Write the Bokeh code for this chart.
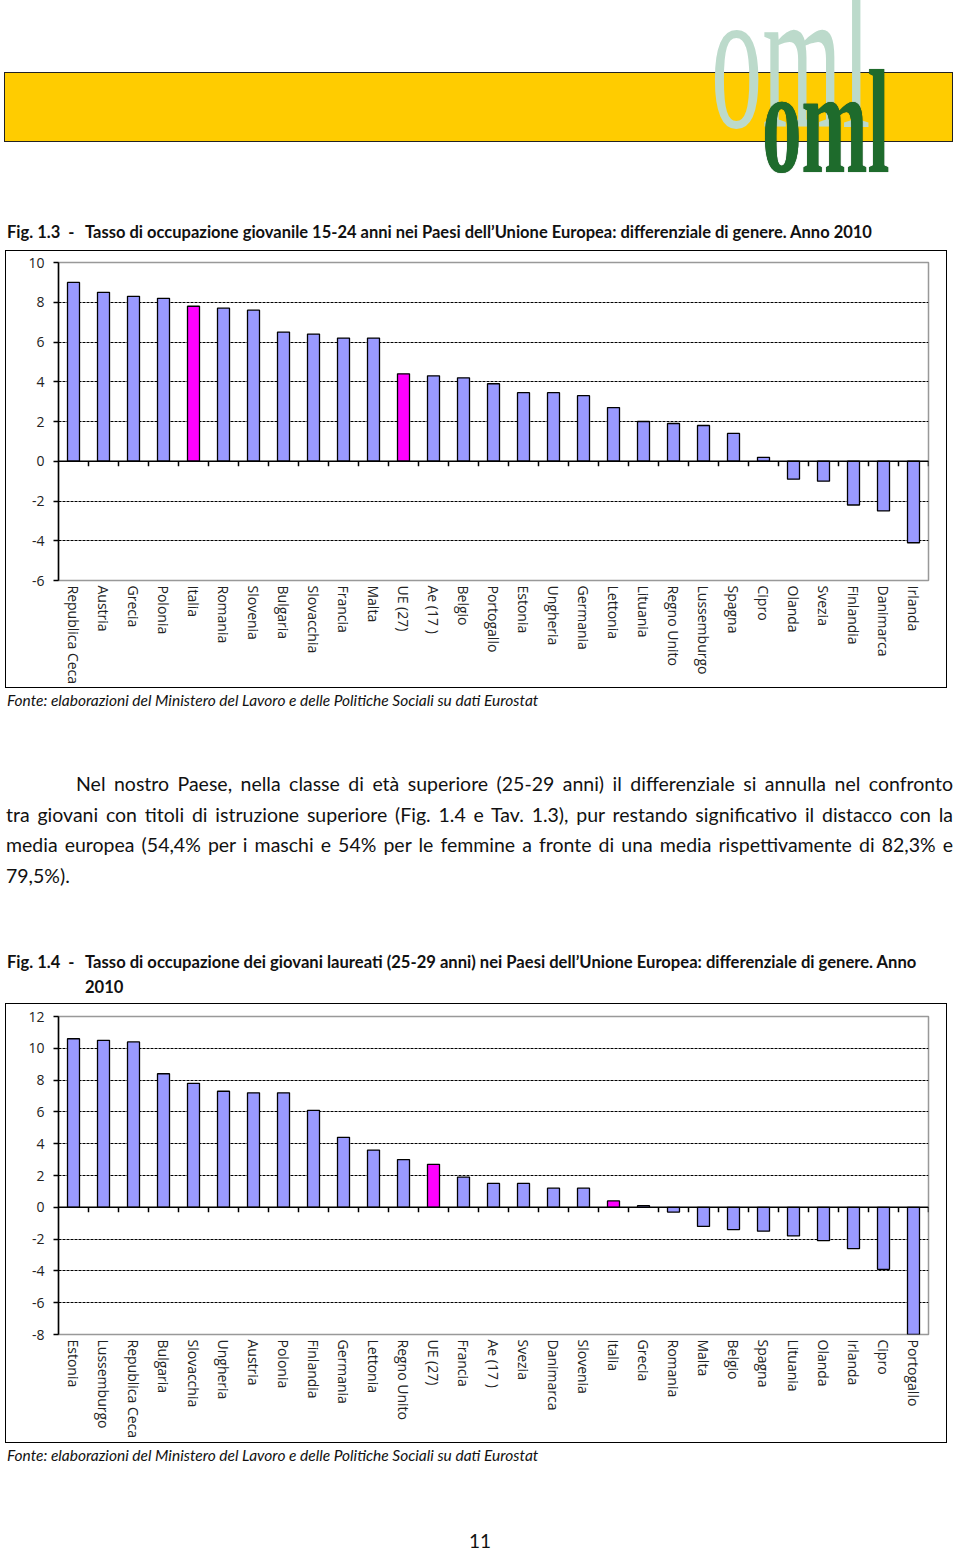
from bokeh.plotting import figure
from bokeh.models import Range1d, FixedTicker, Div, ColumnDataSource, Span
from bokeh.layouts import column
from bokeh.embed import file_html
from bokeh.resources import INLINE

# ---------------- data ----------------
cats1 = ["Republica Ceca", "Austria", "Grecia", "Polonia", "Italia", "Romania", "Slovenia",
         "Bulgaria", "Slovacchia", "Francia", "Malta", "UE (27)", "Ae (17 )", "Belgio",
         "Portogallo", "Estonia", "Ungheria", "Germania", "Lettonia", "Lituania", "Regno Unito",
         "Lussemburgo", "Spagna", "Cipro", "Olanda", "Svezia", "Finlandia", "Danimarca", "Irlanda"]
vals1 = [9.0, 8.5, 8.3, 8.2, 7.8, 7.7, 7.6, 6.5, 6.4, 6.2, 6.2, 4.4, 4.3, 4.2, 3.9, 3.45, 3.45,
         3.3, 2.7, 2.0, 1.9, 1.8, 1.4, 0.2, -0.9, -1.0, -2.2, -2.5, -4.1]
yticks1 = [-6, -4, -2, 0, 2, 4, 6, 8, 10]

cats2 = ["Estonia", "Lussemburgo", "Republica Ceca", "Bulgaria", "Slovacchia", "Ungheria",
         "Austria", "Polonia", "Finlandia", "Germania", "Lettonia", "Regno Unito", "UE (27)",
         "Francia", "Ae (17 )", "Svezia", "Danimarca", "Slovenia", "Italia", "Grecia", "Romania",
         "Malta", "Belgio", "Spagna", "Lituania", "Olanda", "Irlanda", "Cipro", "Portogallo"]
vals2 = [10.6, 10.5, 10.4, 8.4, 7.8, 7.3, 7.2, 7.2, 6.1, 4.4, 3.6, 3.0, 2.7, 1.9, 1.5, 1.5, 1.2,
         1.2, 0.4, 0.1, -0.3, -1.2, -1.4, -1.5, -1.8, -2.1, -2.6, -3.9, -8.0]
yticks2 = [-8, -6, -4, -2, 0, 2, 4, 6, 8, 10, 12]

highlighted = ["Italia", "UE (27)"]

title1_a = "Fig. 1.3 &nbsp;-"
title1_b = "Tasso di occupazione giovanile 15-24 anni nei Paesi dell\u2019Unione Europea: differenziale di genere. Anno 2010"
title2_a = "Fig. 1.4 &nbsp;-"
title2_b = "Tasso di occupazione dei giovani laureati (25-29 anni) nei Paesi dell\u2019Unione Europea: differenziale di genere. Anno<br>2010"
source_txt = "Fonte: elaborazioni del Ministero del Lavoro e delle Politiche Sociali su dati Eurostat"
para_lines = [
    "Nel nostro Paese, nella classe di et\u00e0 superiore (25-29 anni) il differenziale si annulla nel confronto",
    "tra giovani con titoli di istruzione superiore (Fig. 1.4 e Tav. 1.3), pur restando significativo il distacco con la",
    "media europea (54,4% per i maschi e 54% per le femmine a fronte di una media rispettivamente di 82,3% e",
    "79,5%).",
]
page_number = "11"

BAR = "#9999FF"
HIGH = "#FF00FF"
FONT = "Open Sans"
DOC = "Lato"


def make_chart(cats, vals, yticks, height, top, bottom, left, right):
    n = len(cats)
    centers = [i + 0.5 for i in range(n)]
    colors = [HIGH if c in highlighted else BAR for c in cats]
    src = ColumnDataSource(dict(x=centers, top=vals, color=colors, name=cats))
    ymin, ymax = yticks[0], yticks[-1]
    p = figure(width=942, height=height, x_range=Range1d(0, n),
               y_range=Range1d(ymin, ymax), output_backend="svg",
               toolbar_location=None, min_border_left=left, min_border_right=right,
               min_border_top=top, min_border_bottom=bottom, margin=0)
    p.background_fill_color = "white"
    p.border_fill_color = "white"
    p.outline_line_color = "#999999"
    p.outline_line_width = 1.5
    p.xgrid.visible = False
    p.ygrid.ticker = FixedTicker(ticks=yticks)
    p.ygrid.grid_line_color = "#000000"
    p.ygrid.grid_line_dash = "3 1"
    p.ygrid.grid_line_width = 1

    p.vbar(x="x", top="top", width=0.4, source=src, fill_color="color",
           line_color="#000000", line_width=1.3)

    # category axis line at zero with tick marks between the categories
    p.add_layout(Span(location=0, dimension="width", line_color="#000000", line_width=1.5))
    tick_len = 5 * (ymax - ymin) / (height - top - bottom)
    bounds = list(range(1, n + 1))
    p.segment(x0=bounds, y0=[0] * n, x1=bounds, y1=[-tick_len] * n,
              line_color="#000000", line_width=1.5)

    ya = p.yaxis[0]
    ya.ticker = FixedTicker(ticks=yticks)
    ya.major_label_overrides = {t: str(t) for t in yticks}
    ya.major_tick_in = 0
    ya.major_tick_out = 5
    ya.minor_tick_line_color = None
    ya.axis_line_width = 1.5
    ya.major_tick_line_width = 1.5
    ya.major_label_text_font = FONT
    ya.major_label_text_font_size = "14px"
    ya.major_label_text_color = "#222222"
    ya.major_label_standoff = 9

    xa = p.xaxis[0]
    xa.ticker = FixedTicker(ticks=centers)
    xa.major_label_overrides = {c: name for c, name in zip(centers, cats)}
    xa.axis_line_color = None
    xa.major_tick_line_color = None
    xa.minor_tick_line_color = None
    xa.major_tick_out = 0
    xa.major_tick_in = 0
    xa.major_label_orientation = "vertical"
    xa.major_label_text_font = FONT
    xa.major_label_text_font_size = "14px"
    xa.major_label_text_color = "#222222"
    xa.major_label_standoff = 5

    p.styles = {"border": "1.5px solid #000000", "margin-left": "-3px"}
    return p


p1 = make_chart(cats1, vals1, yticks1, 438, 11, 109, 52, 20)
p2 = make_chart(cats2, vals2, yticks2, 440, 12, 110, 50, 20)

TXT = f"font-family:'{DOC}';color:#111111;white-space:nowrap;position:absolute;"

header = Div(width=944, height=242, margin=0, text=f"""
<div style="position:relative;width:944px;height:242px;">
 <div style="position:absolute;left:-4px;top:64px;width:949px;height:70px;background:#FFCC00;border:1.5px solid #222;box-sizing:border-box;"></div>
 <div style="position:absolute;left:703px;top:-53px;font-family:'Liberation Serif';font-size:205px;line-height:1;color:#BCDACB;transform:scaleX(0.5);transform-origin:0 0;white-space:nowrap;">oml</div>
 <div style="position:absolute;left:754px;top:40px;font-family:'Liberation Serif';font-weight:bold;font-size:148px;line-height:1;color:#1E6B2C;transform:scaleX(0.535);transform-origin:0 0;white-space:nowrap;text-shadow:0 0 1px #0b3d14;">oml</div>
 <div style="{TXT}left:-1px;top:214px;font-weight:bold;font-size:16.5px;line-height:20px;">{title1_a}</div>
 <div style="{TXT}left:77px;top:214px;font-weight:bold;font-size:16.5px;line-height:20px;">{title1_b}</div>
</div>""")

para = ""
for i, ln in enumerate(para_lines):
    left = 68 if i == 0 else -2
    width = 877 if i == 0 else 947
    last = "justify" if i < len(para_lines) - 1 else "left"
    top = 81 + i * 30.7
    para += (f'<div style="position:absolute;left:{left}px;top:{top}px;width:{width}px;'
             f"font-family:'{DOC}';font-size:19.5px;line-height:30px;color:#111111;"
             f'text-align:justify;text-align-last:{last};white-space:nowrap;">{ln}</div>')

middle = Div(width=944, height=315, margin=0, text=f"""
<div style="position:relative;width:944px;height:315px;">
 <div style="{TXT}left:-1px;top:3px;font-style:italic;font-size:15.5px;line-height:18px;">{source_txt}</div>
 {para}
 <div style="{TXT}left:-1px;top:262px;font-weight:bold;font-size:16.5px;line-height:25px;">{title2_a}</div>
 <div style="{TXT}left:77px;top:262px;font-weight:bold;font-size:16.6px;line-height:25px;">{title2_b}</div>
</div>""")

footer = Div(width=944, height=101, margin=0, text=f"""
<div style="position:relative;width:944px;height:101px;">
 <div style="{TXT}left:-1px;top:3px;font-style:italic;font-size:15.5px;line-height:18px;">{source_txt}</div>
 <div style="{TXT}left:461px;top:87px;font-size:19px;line-height:22px;">{page_number}</div>
</div>""")

layout = column(header, p1, middle, p2, footer, spacing=0, margin=(8, 0, 0, 8))
open("out.html", "w").write(file_html(layout, INLINE))
